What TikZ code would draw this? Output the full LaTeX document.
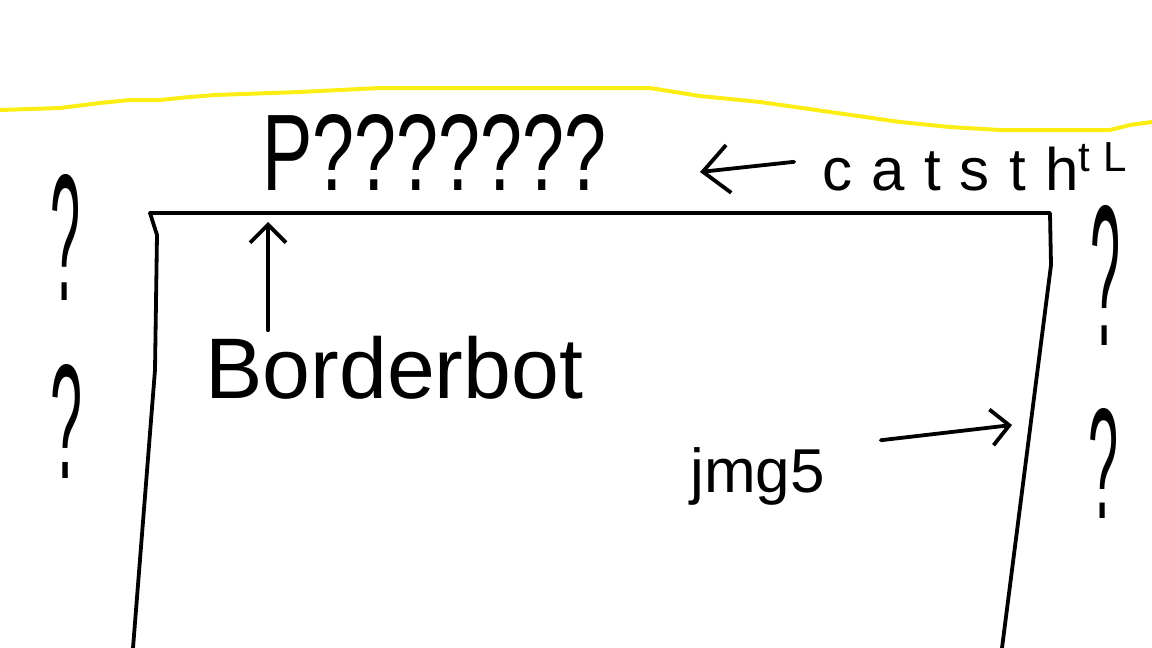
\documentclass[tikz,border=0pt]{standalone}
\usepackage{fontspec}
\usetikzlibrary{arrows.meta}
\newfontfamily\handfont{Liberation Sans}
\newfontfamily\handwide[LetterSpace=32]{Liberation Sans}
\definecolor{hiyellow}{RGB}{250,238,20}
\tikzset{
  sketch/.style={line width=1.9pt,line cap=round,line join=round},
  barb/.style={sketch,-{Straight Barb[length=9pt,width=18pt]}},
  lbl/.style={inner sep=0pt,anchor=base west}
}
\begin{document}
\begin{tikzpicture}[x=0.5pt,y=-0.5pt]
    \useasboundingbox (0,0) rectangle (1152,648);
    \draw[hiyellow,line width=2pt,line join=round] (0,110) -- (60,108) -- (100,103) -- (130,100) -- (160,100) -- (190,97) -- (215,95) -- (300,92) -- (380,88) -- (650,88) -- (700,96) -- (760,102) -- (830,112) -- (900,122) -- (950,127) -- (1000,130) -- (1110,130) -- (1130,125) -- (1152,122);
    \draw[sketch] (133,648) -- (155,370) -- (157,235) -- (150,213) -- (1050,213) -- (1051,265) -- (1002,648);
    \node[lbl] (qrow) at (262,190) {\handfont\resizebox{172pt}{38pt}{P???????}};
    \node[lbl] (qleftA) at (50,300) {\handfont\resizebox{15pt}{63pt}{?}};
    \node[lbl] (qleftB) at (50,478) {\handfont\resizebox{16pt}{57pt}{?}};
    \node[lbl] (qrightA) at (1090,345) {\handfont\resizebox{15pt}{70pt}{?}};
    \node[lbl] (qrightB) at (1088,518) {\handfont\resizebox{15pt}{55pt}{?}};
    \node[lbl,font=\fontsize{43}{43}\selectfont\handfont] (borderbot) at (205,398) {Borderbot};
    \node[lbl,font=\fontsize{30}{30}\selectfont\handwide] (cats) at (822,190) {catsth\textsuperscript{tL}};
    \node[lbl,font=\fontsize{31}{31}\selectfont\handfont] (img) at (690,492) {jmg5};
    \coordinate (bbtip) at (268,222);
    \coordinate (catstip) at (700,172);
    \coordinate (imgtip) at (1012,425);
    \draw[barb] (bbtip |- borderbot.north) ++(0,-5) -- (bbtip);
    \draw[barb,-{Straight Barb[length=13pt,width=24pt]},shorten <=14pt] (cats.west) ++(0,-8) -- (catstip);
    \draw[barb,shorten <=28pt] (img.north east) -- (imgtip);
\end{tikzpicture}
\end{document}
